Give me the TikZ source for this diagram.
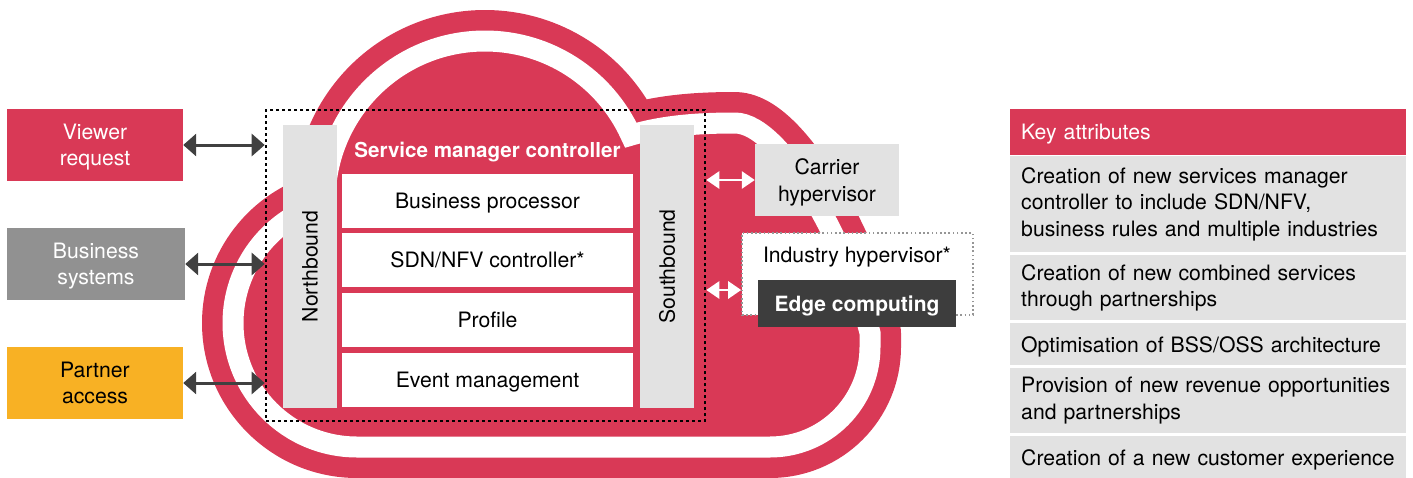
\documentclass[tikz,border=0pt]{standalone}
\usepackage{fontspec}
\setmainfont{TeX Gyre Heros}
\usetikzlibrary{arrows.meta}
\definecolor{cred}{RGB}{217,57,86}
\definecolor{cgray}{RGB}{145,145,145}
\definecolor{corange}{RGB}{248,177,36}
\definecolor{clight}{RGB}{226,226,226}
\definecolor{cdark}{RGB}{61,61,61}
\definecolor{carrow}{RGB}{64,64,64}
\definecolor{cdot}{RGB}{150,150,150}
\def\mycloudpath{(325,201) arc[start angle=180, end angle=335.7, radius=160pt]
  .. controls (662,126) and (695,123) .. (735,123)
  .. controls (782,123) and (850,250) .. (870,333)
  -- (870,347) arc[start angle=0, end angle=90, radius=100pt]
  -- (357,447) arc[start angle=90, end angle=255.07, radius=124pt] -- cycle}
\begin{document}
\begin{tikzpicture}[x=1pt, y=1pt, yscale=-1,
  txt/.style={font=\fontsize{21.2}{26.5}\selectfont, text depth=0pt},
  boldtxt/.style={font=\fontsize{21}{26}\selectfont\bfseries, text depth=0pt},
  srcbox/.style={txt, minimum width=176pt, minimum height=72pt, inner sep=0pt, align=center},
  layerbox/.style={txt, fill=white, minimum width=291pt, minimum height=54pt, inner sep=0pt},
  bar/.style={txt, fill=clight, rotate=90, minimum width=283pt, minimum height=54pt, inner sep=0pt},
  attr/.style={font=\fontsize{21.2}{26.5}\selectfont, fill=clight, anchor=north west, text width=374pt, inner xsep=11pt, inner ysep=0pt, align=left},
  oneline/.style={text depth=0pt},
  darr/.style={draw=carrow, line width=3pt, arrows={Triangle[length=13pt,width=22pt]-Triangle[length=13pt,width=22pt]}},
  warr/.style={draw=white, line width=2.8pt, arrows={Triangle[length=13pt,width=17pt]-Triangle[length=13pt,width=17pt]}}
]
\useasboundingbox (0,0) rectangle (1413,477);

% cloud
\fill[cred, draw=cred, line width=62pt, line join=round] \mycloudpath;
\draw[white, line width=21pt, line join=miter] \mycloudpath;

% service manager controller
\node[bar] (nb) at (310,266.5) {Northbound};
\node[bar] (sb) at (667,266.5) {Southbound};
\node[boldtxt, font=\fontsize{20.6}{25}\selectfont\bfseries, text=white, inner sep=0pt] (smct) at (487.5,150) {Service manager controller};
\node[layerbox] (bp) at (487.5,201) {Business processor};
\node[layerbox] (sdn) at (487.5,260) {SDN/NFV controller*};
\node[layerbox] (prof) at (487.5,320) {Profile};
\node[layerbox] (evm) at (487.5,380) {Event management};
\node[draw=black, line width=2.6pt, dash pattern=on 2.6pt off 3.4pt, minimum width=439pt, minimum height=311pt, inner sep=0pt] (smc) at (485.5,265.5) {};

% left sources
\node[srcbox, fill=cred, text=white] (vr) at (95,145) {Viewer\\request};
\node[srcbox, fill=cgray, text=white, minimum width=178pt] (bs) at (96,264) {Business\\systems};
\node[srcbox, fill=corange, text=black] (pa) at (95,383) {Partner\\access};
\draw[darr] (vr.east) -- (vr.east -| smc.west);
\draw[darr] (bs.east) -- (bs.east -| smc.west);
\draw[darr] (pa.east) -- (pa.east -| smc.west);

% right hypervisors
\node[txt, fill=clight, minimum width=144pt, minimum height=72pt, inner sep=0pt, align=center] (car) at (827,180) {Carrier\\hypervisor};
\draw[warr] (car.west -| smc.east) -- (car.west);
\node[draw=cdot, line width=1.6pt, dash pattern=on 1.6pt off 2.6pt, fill=white, minimum width=231pt, minimum height=82pt, inner sep=0pt] (ind) at (857.5,274) {};
\node[txt, inner sep=0pt] (indt) at (857,255) {Industry hypervisor*};
\node[boldtxt, fill=cdark, text=white, minimum width=198pt, minimum height=47pt, inner sep=0pt] (edge) at (857,303.5) {Edge computing};
\coordinate (iy) at (720,290);
\draw[warr] (iy -| smc.east) -- (iy -| ind.west);

% key attributes
\node[attr, oneline, fill=cred, text=white, minimum height=46pt] (ka) at (1010,109) {Key attributes};
\node[attr, minimum height=96pt] (a1) at (1010,156) {Creation of new services manager\\controller to include SDN/NFV,\\business rules and multiple industries};
\node[attr, minimum height=65pt] (a2) at (1010,255) {Creation of new combined services\\through partnerships};
\node[attr, oneline, minimum height=42pt] (a3) at (1010,323) {Optimisation of BSS/OSS architecture};
\node[attr, minimum height=65pt] (a4) at (1010,368) {Provision of new revenue opportunities\\and partnerships};
\node[attr, oneline, minimum height=42pt] (a5) at (1010,436) {Creation of a new customer experience};
\end{tikzpicture}
\end{document}
